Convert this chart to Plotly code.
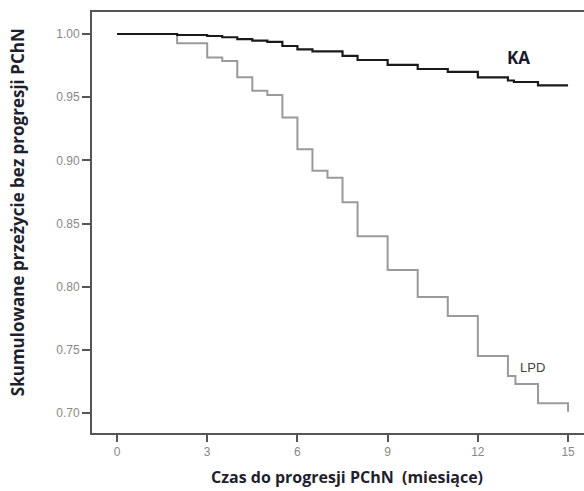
import plotly.graph_objects as go

# Kaplan-Meier step data (time in months, cumulative survival)
ka_time = [0, 2.0, 3.0, 3.5, 4.0, 4.5, 5.0, 5.5, 6.0, 6.5, 7.5, 8.0, 9.0, 10.0, 11.0, 12.0, 13.0, 13.2, 14.0, 15.0]
ka_surv = [1.0, 0.9992, 0.9984, 0.9974, 0.9960, 0.9947, 0.9937, 0.9905, 0.9878, 0.9862, 0.9826, 0.9794, 0.9755,
           0.9723, 0.9700, 0.9657, 0.9632, 0.9620, 0.9594, 0.9594]

lpd_time = [0, 2.0, 3.0, 3.5, 4.0, 4.5, 5.0, 5.5, 6.0, 6.5, 7.0, 7.5, 8.0, 9.0, 10.0, 11.0, 12.0, 13.0, 13.25, 14.0, 15.0]
lpd_surv = [1.0, 0.9926, 0.9813, 0.9786, 0.9657, 0.9550, 0.9517, 0.9340, 0.9087, 0.8918, 0.8863, 0.8668, 0.8400,
            0.8132, 0.7918, 0.7768, 0.7451, 0.7293, 0.7230, 0.7077, 0.7010]

x_ticks = [0, 3, 6, 9, 12, 15]
y_ticks = [0.70, 0.75, 0.80, 0.85, 0.90, 0.95, 1.00]

fig = go.Figure()
fig.add_trace(go.Scatter(x=lpd_time, y=lpd_surv, mode="lines", line=dict(shape="hv", color="#9a9a9a", width=2),
                         showlegend=False, hoverinfo="skip"))
fig.add_trace(go.Scatter(x=ka_time, y=ka_surv, mode="lines", line=dict(shape="hv", color="#1a1a1a", width=2.2),
                         showlegend=False, hoverinfo="skip"))

fig.add_annotation(x=13.34, y=0.981, text="<b>KA</b>", showarrow=False, xanchor="center", yanchor="middle",
                   font=dict(family="Open Sans", size=17, color="#1a1a2e"))
fig.add_annotation(x=13.34, y=0.7359, text="LPD", showarrow=False, xanchor="left", yanchor="middle",
                   font=dict(family="Liberation Sans", size=13, color="#444444"))

fig.add_annotation(xref="paper", yref="paper", x=-0.150, y=0.525, text="<b>Skumulowane przeżycie bez progresji PChN</b>",
                   textangle=-90, showarrow=False, xanchor="center", yanchor="middle",
                   font=dict(family="Open Sans", size=17, color="#1f1f2e"))
fig.add_annotation(xref="paper", yref="paper", x=0.518, y=-0.1045, text="<b>Czas do progresji PChN  (miesiące)</b>",
                   showarrow=False, xanchor="center", yanchor="middle",
                   font=dict(family="Open Sans", size=16, color="#1f1f2e"))

fig.update_layout(
    width=584, height=491,
    margin=dict(l=92, r=0, t=12, b=58),
    plot_bgcolor="white", paper_bgcolor="white",
    xaxis=dict(range=[-0.831, 15.53], tickvals=x_ticks, ticktext=[str(v) for v in x_ticks],
               showgrid=False, zeroline=False, showline=True, linecolor="#555555", linewidth=2, mirror=True,
               ticks="outside", ticklen=7, tickwidth=2, tickcolor="#555555",
               tickfont=dict(family="Liberation Sans", size=12, color="#888888")),
    yaxis=dict(range=[0.6842, 1.0174], tickvals=y_ticks, ticktext=[f"{v:.2f}" for v in y_ticks],
               showgrid=False, zeroline=False, showline=True, linecolor="#555555", linewidth=2, mirror=False,
               ticks="outside", ticklen=8, tickwidth=2, tickcolor="#555555",
               tickfont=dict(family="Liberation Sans", size=12, color="#888888")),
)
fig.write_html("out.html")
